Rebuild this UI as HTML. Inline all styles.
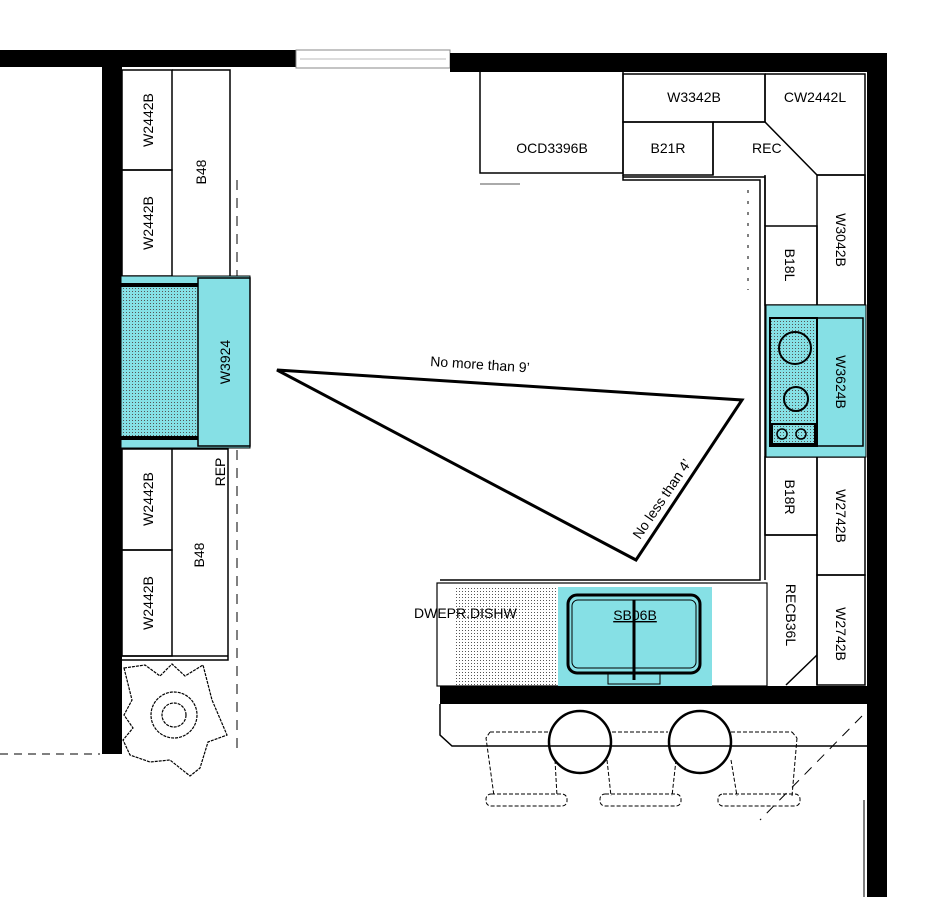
<!DOCTYPE html>
<html><head><meta charset="utf-8"><style>
html,body{margin:0;padding:0;background:#fff;}
svg{display:block;}
text{font-family:"Liberation Sans",Arial,sans-serif;font-size:14px;fill:#000;}
</style></head><body>
<svg width="928" height="897" viewBox="0 0 928 897" xmlns="http://www.w3.org/2000/svg">
<defs>
<pattern id="dots" width="3" height="3" patternUnits="userSpaceOnUse">
<rect width="3" height="3" fill="none"/><rect x="0" y="0" width="1" height="1" fill="#555"/>
</pattern>
</defs>
<!-- walls -->
<rect x="0" y="50" width="296" height="17" fill="#000"/>
<rect x="296" y="50" width="154" height="18" fill="#fff" stroke="#888" stroke-width="1"/>
<line x1="300" y1="59" x2="446" y2="59" stroke="#bbb"/>
<rect x="450" y="53" width="437" height="19" fill="#000"/>
<rect x="867" y="53" width="20" height="844" fill="#000"/>
<rect x="102" y="50" width="20" height="704" fill="#000"/>
<rect x="440" y="686" width="447" height="18" fill="#000"/>
<line x1="0" y1="754" x2="100" y2="754" stroke="#000" stroke-dasharray="8,6"/>

<g fill="none" stroke="#000" stroke-width="1.5">
<!-- left cabinets -->
<rect x="122" y="70" width="50" height="100"/>
<rect x="122" y="170" width="50" height="106"/>
<polyline points="172,70 230,70 230,276"/>
<rect x="122" y="449" width="50" height="101"/>
<rect x="122" y="550" width="50" height="106"/>
<polyline points="172,449 228,449 228,660 122,660"/>
<line x1="122" y1="656" x2="228" y2="656"/>
</g>
<line x1="237" y1="180" x2="237" y2="750" stroke="#000" stroke-dasharray="10,8" stroke-width="1"/>

<!-- range left -->
<rect x="121" y="276" width="129" height="172" fill="#86e0e5" stroke="#000" stroke-width="1"/>
<rect x="121" y="288" width="77" height="148" fill="url(#dots)"/>
<rect x="121" y="283" width="77" height="4" fill="#000"/>
<rect x="121" y="436" width="77" height="4" fill="#000"/>
<rect x="198" y="278" width="52" height="168" fill="#86e0e5" stroke="#000" stroke-width="1.5"/>

<text transform="translate(153,120) rotate(-90)" text-anchor="middle">W2442B</text>
<text transform="translate(153,223) rotate(-90)" text-anchor="middle">W2442B</text>
<text transform="translate(206,172) rotate(-90)" text-anchor="middle">B48</text>
<text transform="translate(230,362) rotate(-90)" text-anchor="middle">W3924</text>
<text transform="translate(225,472) rotate(-90)" text-anchor="middle">REP</text>
<text transform="translate(153,499) rotate(-90)" text-anchor="middle">W2442B</text>
<text transform="translate(153,603) rotate(-90)" text-anchor="middle">W2442B</text>
<text transform="translate(204,555) rotate(-90)" text-anchor="middle">B48</text>

<!-- flower -->
<g fill="none" stroke="#000" stroke-width="1.2" stroke-dasharray="3,1">
<polygon points="124,668 145,665 160,676 172,664 185,676 203,665 212,700 227,735 208,742 200,768 190,776 170,760 150,762 130,755 123,740 133,728 124,715 132,700"/>
<circle cx="174" cy="715" r="23"/>
<circle cx="174" cy="715" r="12"/>
</g>

<!-- top right cabinets -->
<g fill="none" stroke="#000" stroke-width="1.5">
<rect x="480" y="70" width="143" height="103"/>
<rect x="623" y="74" width="142" height="48"/>
<rect x="623" y="122" width="90" height="53"/>
<polyline points="765,74 865,74 865,305"/>
<line x1="765" y1="74" x2="765" y2="122"/>
<polyline points="713,122 765,122 817,175 865,175"/>
<polyline points="713,175 713,122"/>
<polyline points="623,175 623,180 760,180 760,580 440,580"/>
<polyline points="623,177 765,177 765,580"/>
<rect x="817" y="175" width="48" height="130"/>
<rect x="765" y="226" width="52" height="79"/>
<line x1="765" y1="175" x2="765" y2="226"/>
<rect x="765" y="457" width="52" height="78"/>
<rect x="817" y="457" width="48" height="118"/>
<rect x="817" y="575" width="48" height="110"/>
<polyline points="765,535 817,535 817,685"/>
<line x1="817" y1="655" x2="786" y2="685"/>
</g>
<rect x="480" y="183" width="40" height="2" fill="#aaa"/>
<line x1="748" y1="190" x2="748" y2="290" stroke="#000" stroke-dasharray="3,8"/>

<!-- cooktop -->
<rect x="766" y="305" width="100" height="152" fill="#86e0e5" stroke="#000" stroke-width="1"/>
<rect x="770" y="318" width="47" height="128" fill="url(#dots)" stroke="#000" stroke-width="2"/>
<rect x="817" y="318" width="46" height="128" fill="none" stroke="#000" stroke-width="1.5"/>
<circle cx="795" cy="348" r="16" fill="none" stroke="#000" stroke-width="2"/>
<circle cx="796" cy="399" r="12" fill="none" stroke="#000" stroke-width="2"/>
<rect x="772" y="424" width="43" height="20" fill="none" stroke="#000" stroke-width="2"/>
<circle cx="782" cy="434" r="5" fill="none" stroke="#000" stroke-width="1.5"/>
<circle cx="801" cy="434" r="5" fill="none" stroke="#000" stroke-width="1.5"/>

<text transform="translate(662,102)" text-anchor="middle" x="32">W3342B</text>
<text x="815" y="102" text-anchor="middle">CW2442L</text>
<text x="552" y="153" text-anchor="middle">OCD3396B</text>
<text x="668" y="153" text-anchor="middle">B21R</text>
<text x="752" y="153">REC</text>
<text transform="translate(836,240) rotate(90)" text-anchor="middle">W3042B</text>
<text transform="translate(785,265) rotate(90)" text-anchor="middle">B18L</text>
<text transform="translate(836,382) rotate(90)" text-anchor="middle">W3624B</text>
<text transform="translate(785,497) rotate(90)" text-anchor="middle">B18R</text>
<text transform="translate(836,516) rotate(90)" text-anchor="middle">W2742B</text>
<text transform="translate(836,634) rotate(90)" text-anchor="middle">W2742B</text>
<text transform="translate(786,615) rotate(90)" text-anchor="middle">RECB36L</text>

<!-- bottom counter -->
<rect x="437" y="583" width="330" height="103" fill="none" stroke="#000" stroke-width="1.2"/>
<rect x="455" y="587" width="103" height="99" fill="url(#dots)"/>
<rect x="558" y="587" width="154" height="99" fill="#86e0e5"/>
<rect x="568" y="595" width="132" height="78" rx="9" fill="none" stroke="#000" stroke-width="3"/>
<rect x="572" y="600" width="124" height="68" rx="6" fill="none" stroke="#000" stroke-width="1"/>
<line x1="634" y1="600" x2="634" y2="680" stroke="#000" stroke-width="3"/>
<rect x="608" y="673" width="52" height="11" fill="none" stroke="#000" stroke-width="1"/>
<text x="414" y="618">DWEPR.DISHW</text>
<text x="635" y="620" text-anchor="middle" text-decoration="underline">SB06B</text>

<!-- bar -->
<polyline points="440,704 440,735 452,746 867,746" fill="none" stroke="#000" stroke-width="1.5"/>
<line x1="862" y1="716" x2="760" y2="820" stroke="#000" stroke-dasharray="10,8"/>
<g fill="none" stroke="#000" stroke-width="1" stroke-dasharray="4,2">
<path d="M490,732 L548,732 M612,732 L668,732 M731,732 L792,732 M490,732 L486,738 L494,796 M555,760 L557,796 M607,760 L611,796 M676,760 L672,796 M731,760 L737,796 M797,738 L792,796 M792,732 L797,738"/>
<rect x="486" y="794" width="81" height="12" rx="5"/>
<rect x="600" y="794" width="81" height="12" rx="5"/>
<rect x="718" y="794" width="82" height="12" rx="5"/>
</g>
<circle cx="580" cy="742" r="31" fill="none" stroke="#000" stroke-width="2.5"/>
<circle cx="700" cy="742" r="31" fill="none" stroke="#000" stroke-width="2.5"/>
<line x1="864" y1="800" x2="864" y2="897" stroke="#000" stroke-width="1"/>

<!-- triangle -->
<polygon points="277,370 742,400 636,560" fill="none" stroke="#000" stroke-width="3"/>
<text transform="translate(430,366) rotate(3.7)" font-size="15">No more than 9’</text>
<text transform="translate(640,540) rotate(-56)" font-size="15">No less than 4’</text>
</svg>
</body></html>
